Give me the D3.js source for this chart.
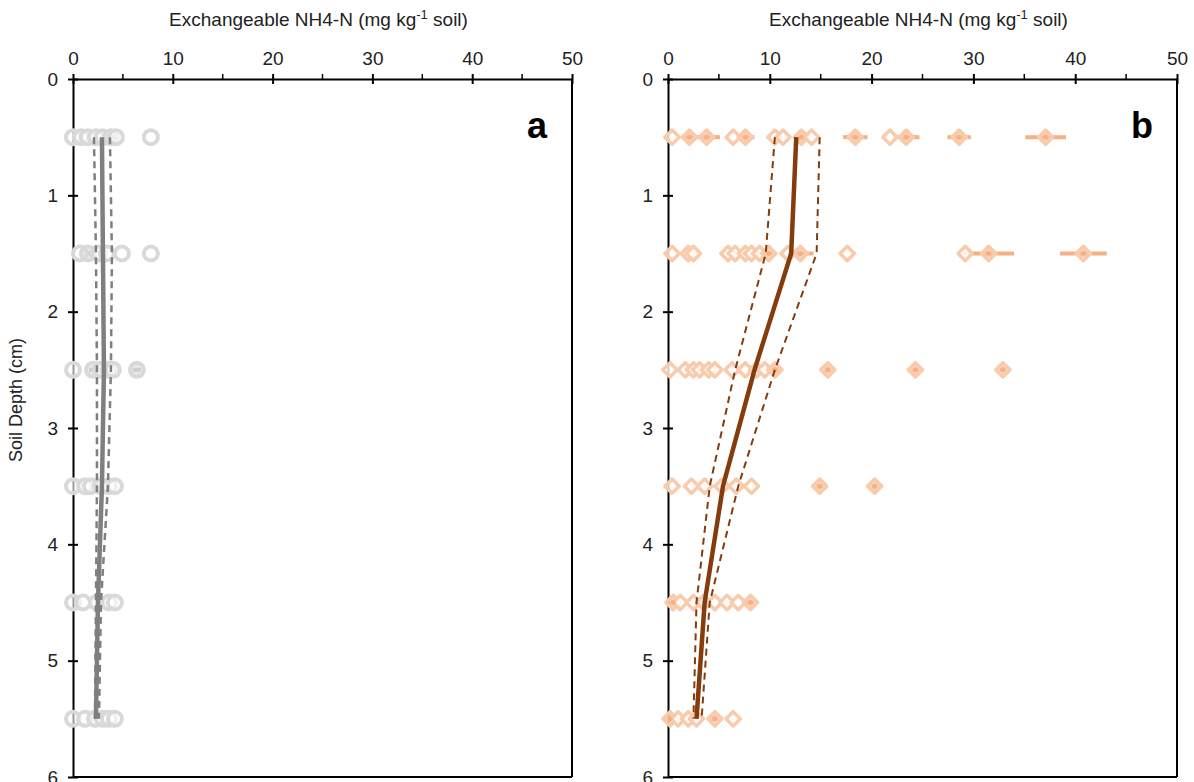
<!DOCTYPE html>
<html>
<head>
<meta charset="utf-8">
<script src="https://cdn.jsdelivr.net/npm/d3@7"></script>
<style>
  body { margin: 0; background: #fff; }
  text { font-family: "Liberation Sans", Arial, sans-serif; }
</style>
</head>
<body>
<svg id="chart" width="1194" height="782"></svg>
<script>
// depths (cm) shared by both panels
const depths = [0.5, 1.5, 2.5, 3.5, 4.5, 5.5];
const xTicks = [0, 10, 20, 30, 40, 50];
const yTicks = [0, 1, 2, 3, 4, 5, 6];

// panel a - individual values per depth
const aValues = [
  [0, 0.8, 1.5, 2.3, 3.0, 3.8, 4.3, 7.8],
  [0.7, 1.5, 2.6, 3.4, 4.9, 7.8],
  [0, 2.0, 2.8, 3.6, 4.0, 6.4],
  [0, 1.2, 1.8, 2.8, 3.6, 4.2],
  [0, 1.0, 2.4, 3.6, 4.2],
  [0, 1.2, 2.2, 3.0, 3.6, 4.2]
];
const aErrors = [
  [0, 0, 0, 0, 0, 0.8, 0, 0],
  [0, 0.3, 0, 0, 0, 0],
  [0, 0.4, 0, 0, 0, 0.4],
  [0, 0, 0, 0, 0, 0],
  [0, 0, 0, 0, 0],
  [0, 0, 0, 0, 0, 0]
];
const aMean = [2.9, 3.0, 3.1, 2.9, 2.5, 2.3];
const aLower = [2.1, 2.3, 2.4, 2.4, 2.3, 2.2];
const aUpper = [3.7, 3.9, 3.8, 3.5, 2.8, 2.6];

// panel b - individual values per depth
const bValues = [
  [0.4, 2.1, 3.8, 6.4, 7.6, 10.5, 11.3, 13.1, 14.1, 18.4, 21.8, 23.4, 28.6, 37.1],
  [0.4, 2.0, 2.5, 5.9, 6.6, 7.6, 8.2, 9.0, 9.9, 11.8, 13.0, 17.6, 29.2, 31.5, 40.8],
  [0.2, 1.7, 2.5, 3.1, 4.0, 4.6, 6.3, 7.6, 8.7, 9.5, 10.5, 15.7, 24.3, 32.9],
  [0.4, 2.3, 3.6, 5.3, 6.7, 8.2, 14.9, 20.3],
  [0.5, 1.2, 2.5, 3.5, 4.6, 5.8, 6.9, 8.1],
  [0.2, 1.0, 2.0, 2.8, 4.6, 6.4]
];
const bErrors = [
  [0, 0.5, 1.3, 0, 0.9, 0, 0, 0.6, 0, 1.2, 0, 1.3, 1.15, 2.0],
  [0, 0, 0, 0, 0, 0, 0, 0, 0.4, 0, 1.3, 0, 0, 2.5, 2.3],
  [0, 0, 0, 0, 0, 0, 0, 0, 0, 0, 0.5, 0.3, 0.3, 0.3],
  [0, 0, 0, 0, 0, 0, 0.3, 0.3],
  [0.3, 0, 0, 0, 0, 0, 0, 0.3],
  [0.3, 0, 0, 0, 0.3, 0]
];
const bMean = [12.6, 12.1, 8.5, 5.4, 3.6, 2.8];
const bLower = [10.5, 9.6, 6.6, 4.1, 2.8, 2.5];
const bUpper = [14.9, 14.6, 10.5, 6.9, 4.1, 3.3];

const svg = d3.select("#chart");

function drawPanel(opt) {
  var x = d3.scaleLinear().domain([0, 50]).range([opt.left, opt.right]);
  var y = d3.scaleLinear().domain([0, 6]).range([79, 777]);
  var g = svg.append("g");

  // title
  var title = g.append("text")
    .attr("x", (opt.left + opt.right) / 2 - 4)
    .attr("y", 26)
    .attr("text-anchor", "middle")
    .attr("font-size", 19)
    .attr("fill", "#222");
  title.append("tspan").text("Exchangeable NH4-N (mg kg");
  title.append("tspan").attr("dy", -7).attr("font-size", 13).text("-1");
  title.append("tspan").attr("dy", 7).text(" soil)");

  // box (right and bottom borders)
  g.append("line").attr("x1", opt.right).attr("x2", opt.right)
    .attr("y1", y(0)).attr("y2", y(6)).attr("stroke", "#000").attr("stroke-width", 2);
  g.append("line").attr("x1", opt.left).attr("x2", opt.right)
    .attr("y1", y(6)).attr("y2", y(6)).attr("stroke", "#000").attr("stroke-width", 2);

  // top axis
  var top = g.append("g").attr("transform", "translate(0," + y(0) + ")")
    .call(d3.axisTop(x).tickValues(xTicks).tickSize(5).tickSizeOuter(0).tickPadding(9));
  top.selectAll(".tick line").each(function() {
    d3.select(this).attr("y1", -5).attr("y2", 5);
  });
  // minor ticks
  g.selectAll(".minorx").data([5, 15, 25, 35, 45]).enter().append("line")
    .attr("x1", d => x(d)).attr("x2", d => x(d))
    .attr("y1", y(0) - 5).attr("y2", y(0))
    .attr("stroke", "#000").attr("stroke-width", 1.5);

  // left axis
  var left = g.append("g").attr("transform", "translate(" + opt.left + ",0)")
    .call(d3.axisLeft(y).tickValues(yTicks).tickFormat(d3.format("d"))
      .tickSize(5).tickSizeOuter(0).tickPadding(10));
  left.selectAll(".tick line").attr("x1", 5).attr("x2", -5);

  g.selectAll(".domain").attr("stroke", "#000").attr("stroke-width", 2);
  g.selectAll(".tick line").attr("stroke", "#000").attr("stroke-width", 2);
  g.selectAll(".tick text").attr("font-size", 19).attr("fill", "#222")
    .attr("font-family", "Liberation Sans, Arial, sans-serif");

  // points
  var pts = [];
  opt.values.forEach(function(row, i) {
    row.forEach(function(v, j) {
      pts.push({ depth: depths[i], v: v, err: opt.errors[i][j] });
    });
  });

  g.selectAll(".err").data(pts.filter(d => d.err > 0)).enter().append("line")
    .attr("x1", d => x(d.v - d.err)).attr("x2", d => x(d.v + d.err))
    .attr("y1", d => y(d.depth)).attr("y2", d => y(d.depth))
    .attr("stroke", opt.errColor).attr("stroke-width", 4);

  if (opt.marker == "circle") {
    g.selectAll(".pt").data(pts).enter().append("circle")
      .attr("cx", d => x(d.v)).attr("cy", d => y(d.depth)).attr("r", 7)
      .attr("fill", d => d.err > 0 ? opt.markColor : "#fff")
      .attr("fill-opacity", 0.6)
      .attr("stroke", opt.markColor).attr("stroke-width", 4);
  } else {
    var sym = d3.symbol().type(d3.symbolDiamond2).size(130);
    g.selectAll(".pt").data(pts).enter().append("path")
      .attr("d", sym)
      .attr("transform", d => "translate(" + x(d.v) + "," + y(d.depth) + ")")
      .attr("fill", d => d.err > 0 ? opt.markColor : "#fff")
      .attr("fill-opacity", 0.8)
      .attr("stroke", opt.markColor).attr("stroke-width", 3.5)
      .attr("stroke-linejoin", "round");
    g.selectAll(".ctr").data(pts.filter(d => d.err > 0)).enter().append("circle")
      .attr("cx", d => x(d.v)).attr("cy", d => y(d.depth)).attr("r", 2.5)
      .attr("fill", opt.errColor);
  }

  // mean and confidence lines
  var line = function(vals) {
    return d3.line().x((d, i) => x(vals[i])).y(d => y(d))(depths);
  };
  [opt.lower, opt.upper].forEach(function(vals) {
    g.append("path").attr("d", line(vals)).attr("fill", "none")
      .attr("stroke", opt.lineColor).attr("stroke-width", opt.dashWidth)
      .attr("stroke-dasharray", "7,5");
  });
  g.append("path").attr("d", line(opt.mean)).attr("fill", "none")
    .attr("stroke", opt.lineColor).attr("stroke-width", 4.5);

  // panel letter
  g.append("text").attr("x", opt.right - 35).attr("y", 138)
    .attr("text-anchor", "middle").attr("font-size", 36).attr("font-weight", "bold")
    .attr("fill", "#000").text(opt.letter);
}

drawPanel({
  left: 73, right: 572, letter: "a", marker: "circle",
  values: aValues, errors: aErrors, mean: aMean, lower: aLower, upper: aUpper,
  markColor: "#d9d9d9", errColor: "#bfbfbf", lineColor: "#7f7f7f", dashWidth: 2.5
});
drawPanel({
  left: 668, right: 1177, letter: "b", marker: "diamond",
  values: bValues, errors: bErrors, mean: bMean, lower: bLower, upper: bUpper,
  markColor: "#f8cbad", errColor: "#f4b183", lineColor: "#843c0c", dashWidth: 2
});

// y axis title
svg.append("text")
  .attr("transform", "translate(22,400) rotate(-90)")
  .attr("text-anchor", "middle").attr("font-size", 18).attr("fill", "#222")
  .text("Soil Depth (cm)");
</script>
</body>
</html>
